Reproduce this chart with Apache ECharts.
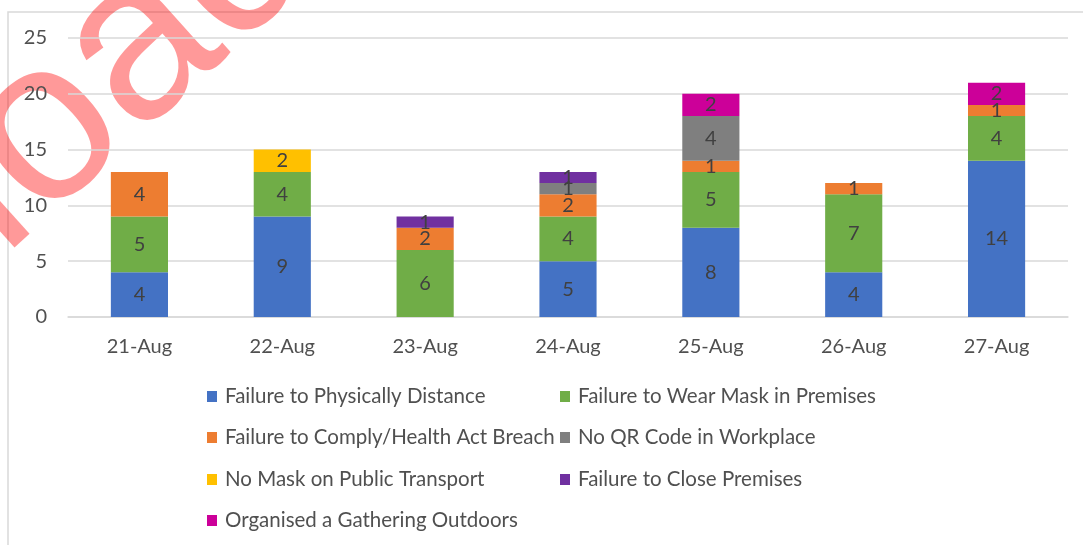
<!DOCTYPE html>
<html>
<head>
<meta charset="utf-8">
<script src="https://cdn.jsdelivr.net/npm/echarts@6/dist/echarts.min.js"></script>
<style>
html,body{margin:0;padding:0;background:#fff;}
#chart{width:1083px;height:545px;}
</style>
</head>
<body>
<div id="chart"></div>
<script>
var categories = ['21-Aug','22-Aug','23-Aug','24-Aug','25-Aug','26-Aug','27-Aug'];
var seriesNames = [
  'Failure to Physically Distance',
  'Failure to Wear Mask in Premises',
  'Failure to Comply/Health Act Breach',
  'No QR Code in Workplace',
  'No Mask on Public Transport',
  'Failure to Close Premises',
  'Organised a Gathering Outdoors'
];
var physicallyDistance = [4, 9, 0, 5, 8, 4, 14];
var wearMask          = [5, 4, 6, 4, 5, 7, 4];
var complyBreach      = [4, 0, 2, 2, 1, 1, 1];
var noQRCode          = [0, 0, 0, 1, 4, 0, 0];
var publicTransport   = [0, 2, 0, 0, 0, 0, 0];
var closePremises     = [0, 0, 1, 1, 0, 0, 0];
var gatheringOutdoors = [0, 0, 0, 0, 2, 0, 2];
var yTicks = [0, 5, 10, 15, 20, 25];

var values = [physicallyDistance, wearMask, complyBreach, noQRCode, publicTransport, closePremises, gatheringOutdoors];
var colors = ['#4472C4', '#70AD47', '#ED7D31', '#7F7F7F', '#FFC000', '#7030A0', '#CC0099'];
var FONT = 'Lato';
var TEXT = '#505050';

var series = seriesNames.map(function (name, i) {
  return {
    name: name,
    type: 'bar',
    stack: 'total',
    barWidth: '40%',
    data: values[i],
    itemStyle: { color: colors[i] },
    label: {
      show: true,
      position: 'inside',
      color: '#404040',
      fontFamily: FONT,
      fontSize: 20,
      formatter: function (p) { return p.value ? String(p.value) : ''; }
    }
  };
});

var legendPos = [
  [207, 386], [560, 386],
  [207, 427], [560, 427],
  [207, 469], [560, 469],
  [207, 510]
];
var legends = seriesNames.map(function (name, i) {
  return {
    data: [name],
    left: legendPos[i][0],
    top: legendPos[i][1],
    padding: 0,
    itemWidth: 10,
    itemHeight: 11,
    icon: 'rect',
    selectedMode: false,
    textStyle: { color: TEXT, fontFamily: FONT, fontSize: 20.5, padding: [0, 0, 0, 3] }
  };
});

var chart = echarts.init(document.getElementById('chart'), null, { renderer: 'canvas' });
chart.setOption({
  animation: false,
  backgroundColor: '#ffffff',
  color: colors,
  grid: { left: 68, right: 15, top: 38, bottom: 228, containLabel: false },
  legend: legends,
  xAxis: {
    type: 'category',
    data: categories,
    axisLine: { show: true, lineStyle: { color: '#d9d9d9', width: 1.5 } },
    axisTick: { show: false },
    axisLabel: { color: TEXT, fontFamily: FONT, fontSize: 20, margin: 20 }
  },
  yAxis: {
    type: 'value',
    min: yTicks[0],
    max: yTicks[yTicks.length - 1],
    interval: yTicks[1] - yTicks[0],
    axisLine: { show: false },
    axisTick: { show: false },
    splitLine: { lineStyle: { color: '#d9d9d9', width: 1.5 } },
    axisLabel: { color: TEXT, fontFamily: FONT, fontSize: 20, margin: 21 }
  },
  series: series,
  graphic: [
    {
      type: 'rect',
      shape: { x: 8, y: 12, width: 2000, height: 2000 },
      style: { fill: 'none', stroke: '#d9d9d9', lineWidth: 1.5 },
      silent: true,
      z: -1
    },
    {
      type: 'group',
      x: 14,
      y: 270,
      rotation: 0.733,
      z: 100,
      silent: true,
      children: [
        {
          type: 'text',
          x: -588,
          y: -80,
          style: {
            text: 'Download',
            font: '230px "Liberation Sans"',
            fill: 'rgba(255,0,0,0.4)',
            align: 'left',
            verticalAlign: 'middle'
          }
        }
      ]
    }
  ]
});
</script>
</body>
</html>
